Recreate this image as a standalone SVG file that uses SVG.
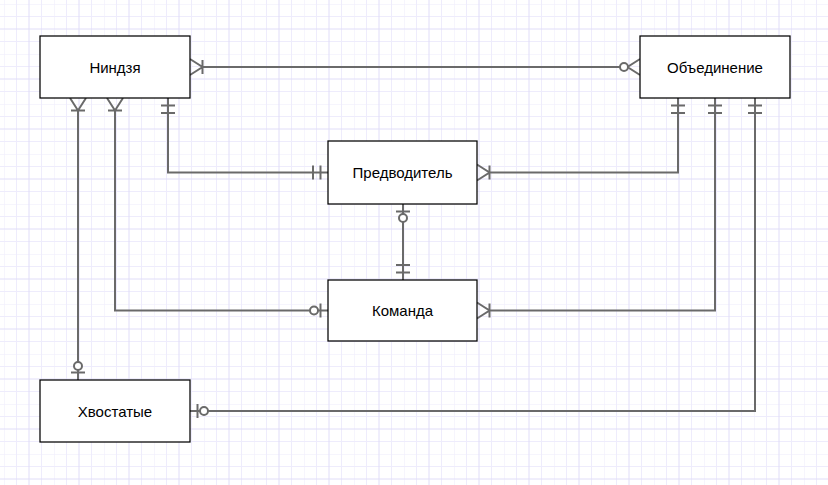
<svg xmlns="http://www.w3.org/2000/svg" width="828" height="485" viewBox="0 0 828 485">
<style>
.box{fill:#fff;stroke:#000;stroke-width:1.25}
.lbl{font-family:"Liberation Sans",Arial,sans-serif;font-size:15px;fill:#000;text-anchor:middle}
.con{fill:none;stroke:#6a6a6a;stroke-width:2}
.mk{fill:none;stroke:#6a6a6a;stroke-width:2}
.mkc{fill:#fff;stroke:#6a6a6a;stroke-width:2}
</style>
<defs>
<pattern id="grid" patternUnits="userSpaceOnUse" x="4" y="4" width="50" height="50">
<path d="M0 0V50M12.5 0V50M37.5 0V50M0 0H50M0 12.5H50M0 37.5H50" stroke="#eeecfc" stroke-width="1" fill="none"/>
<path d="M25 0V50M0 25H50" stroke="#e0ddf8" stroke-width="1" fill="none"/>
</pattern>
<marker id="many1" markerUnits="userSpaceOnUse" orient="auto-start-reverse" refX="0" refY="0" markerWidth="30" markerHeight="30" viewBox="-15 -15 30 30" style="overflow:visible">
<path class="mk" d="M0 -7V7M12.5 -8L0 0L12.5 8"/>
</marker>
<marker id="many0" markerUnits="userSpaceOnUse" orient="auto-start-reverse" refX="0" refY="0" markerWidth="30" markerHeight="30" viewBox="-15 -15 30 30" style="overflow:visible">
<path class="mk" d="M12.5 -8L0 0L12.5 8"/>
<circle class="mkc" cx="-3.5" cy="0" r="4"/>
</marker>
<marker id="one0" markerUnits="userSpaceOnUse" orient="auto-start-reverse" refX="0" refY="0" markerWidth="40" markerHeight="30" viewBox="-25 -15 40 30" style="overflow:visible">
<path class="mk" d="M-7.5 -7V7"/>
<circle class="mkc" cx="-14" cy="0" r="4"/>
</marker>
<marker id="one1" markerUnits="userSpaceOnUse" orient="auto-start-reverse" refX="0" refY="0" markerWidth="40" markerHeight="30" viewBox="-25 -15 40 30" style="overflow:visible">
<path class="mk" d="M-7.5 -7V7M-15 -7V7"/>
</marker>
</defs>
<rect width="828" height="485" fill="#fff"/>
<rect width="828" height="485" fill="url(#grid)"/>
<g id="connectors">
<path class="con" d="M202.5 67H627.5" marker-start="url(#many1)" marker-end="url(#many0)"/>
<path class="con" d="M78 110.5V380" marker-start="url(#many1)" marker-end="url(#one0)"/>
<path class="con" d="M115 110.5V310.5H328" marker-start="url(#many1)" marker-end="url(#one0)"/>
<path class="con" d="M168 98V172.5H328" marker-start="url(#one1)" marker-end="url(#one1)"/>
<path class="con" d="M489.5 172.5H678V98" marker-start="url(#many1)" marker-end="url(#one1)"/>
<path class="con" d="M489.5 310.5H715V98" marker-start="url(#many1)" marker-end="url(#one1)"/>
<path class="con" d="M190 411H755V98" marker-start="url(#one0)" marker-end="url(#one1)"/>
<path class="con" d="M403 204V280" marker-start="url(#one0)" marker-end="url(#one1)"/>
</g>
<g id="ninja"><rect class="box" x="40" y="36" width="150" height="62"/><text class="lbl" x="115" y="72.5">Ниндзя</text></g>
<g id="obed"><rect class="box" x="640" y="36" width="150" height="62"/><text class="lbl" x="715" y="72.5">Объединение</text></g>
<g id="pred"><rect class="box" x="328" y="141" width="149" height="63"/><text class="lbl" x="402.5" y="178">Предводитель</text></g>
<g id="kom"><rect class="box" x="328" y="280" width="149" height="61"/><text class="lbl" x="402.5" y="316">Команда</text></g>
<g id="hvost"><rect class="box" x="40" y="380" width="150" height="62"/><text class="lbl" x="115" y="416.5">Хвостатые</text></g>
</svg>
